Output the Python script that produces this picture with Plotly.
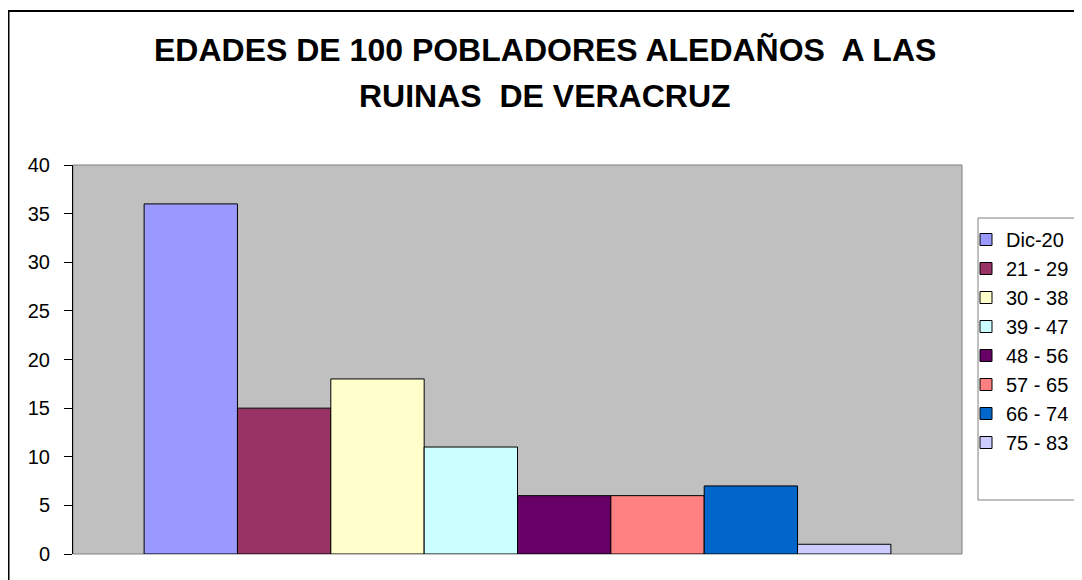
import plotly.graph_objects as go

# Data
categories = ["Dic-20", "21 - 29", "30 - 38", "39 - 47", "48 - 56", "57 - 65", "66 - 74", "75 - 83"]
values = [36, 15, 18, 11, 6, 6, 7, 1]
colors = ["#9999FF", "#993366", "#FFFFCC", "#CCFFFF", "#660066", "#FF8080", "#0066CC", "#CCCCFF"]
title_lines = ["EDADES DE 100 POBLADORES ALEDAÑOS  A LAS", "RUINAS  DE VERACRUZ"]

W, H = 1082, 580
OFF = 8  # page body margin offset
# target screen positions of plot area: x 73..962, y 165..554
L = 73 - OFF
R = W - (962 - OFF)
T = 165 - OFF
B = H - (554 - OFF)
pw, ph = W - L - R, H - T - B

def px_x(x):
    return (x - OFF - L) / pw

def px_y(y):
    return (H - B - (y - OFF)) / ph

fig = go.Figure()
for name, v, c in zip(categories, values, colors):
    fig.add_trace(go.Bar(
        x=["g"], y=[v], name=name, legendgroup=name,
        marker=dict(color=c, line=dict(color="#000000", width=1)),
    ))

FONT = "Liberation Sans, Arial, sans-serif"

fig.update_layout(
    width=W, height=H,
    margin=dict(l=L, r=R, t=T, b=B, autoexpand=False),
    paper_bgcolor="#FFFFFF",
    plot_bgcolor="#C0C0C0",
    barmode="group",
    bargap=0.16,
    bargroupgap=0,
    font=dict(family=FONT, size=20, color="#000000"),
    showlegend=True,
    legend=dict(
        x=px_x(966), xanchor="left",
        y=px_y(220), yanchor="top",
        font=dict(family=FONT, size=20, color="#000000"),
        bgcolor="rgba(0,0,0,0)",
        borderwidth=0,
        tracegroupgap=3,
        traceorder="normal",
    ),
    xaxis=dict(showticklabels=False, showline=False, showgrid=False, ticks="", zeroline=False),
    yaxis=dict(
        range=[0, 40], dtick=5, tick0=0,
        showgrid=False, zeroline=False,
        showline=True, linecolor="#000000", linewidth=1,
        ticks="outside", ticklen=8, tickcolor="#000000", tickwidth=1,
        ticklabelstandoff=10,
        tickfont=dict(family=FONT, size=20, color="#000000"),
    ),
    shapes=[
        # plot area border
        dict(type="rect", xref="paper", yref="paper", x0=0, x1=1, y0=0, y1=1,
             line=dict(color="#808080", width=1), layer="below"),
        # legend box
        dict(type="rect", xref="paper", yref="paper",
             x0=px_x(978), x1=px_x(1100), y0=px_y(500), y1=px_y(218),
             line=dict(color="#808080", width=1), fillcolor="rgba(0,0,0,0)"),
        # outer chart border
        dict(type="rect", xref="paper", yref="paper",
             x0=px_x(8.5), x1=px_x(1110), y0=px_y(620), y1=px_y(11),
             line=dict(color="#000000", width=2), fillcolor="rgba(0,0,0,0)"),
    ],
    annotations=[
        dict(text="<b>%s</b>" % title_lines[0], xref="paper", yref="paper",
             x=px_x(545), y=px_y(50), xanchor="center", yanchor="middle", showarrow=False,
             font=dict(family=FONT, size=32, color="#000000")),
        dict(text="<b>%s</b>" % title_lines[1], xref="paper", yref="paper",
             x=px_x(545), y=px_y(96), xanchor="center", yanchor="middle", showarrow=False,
             font=dict(family=FONT, size=32, color="#000000")),
    ],
)

fig.write_html("out.html")
